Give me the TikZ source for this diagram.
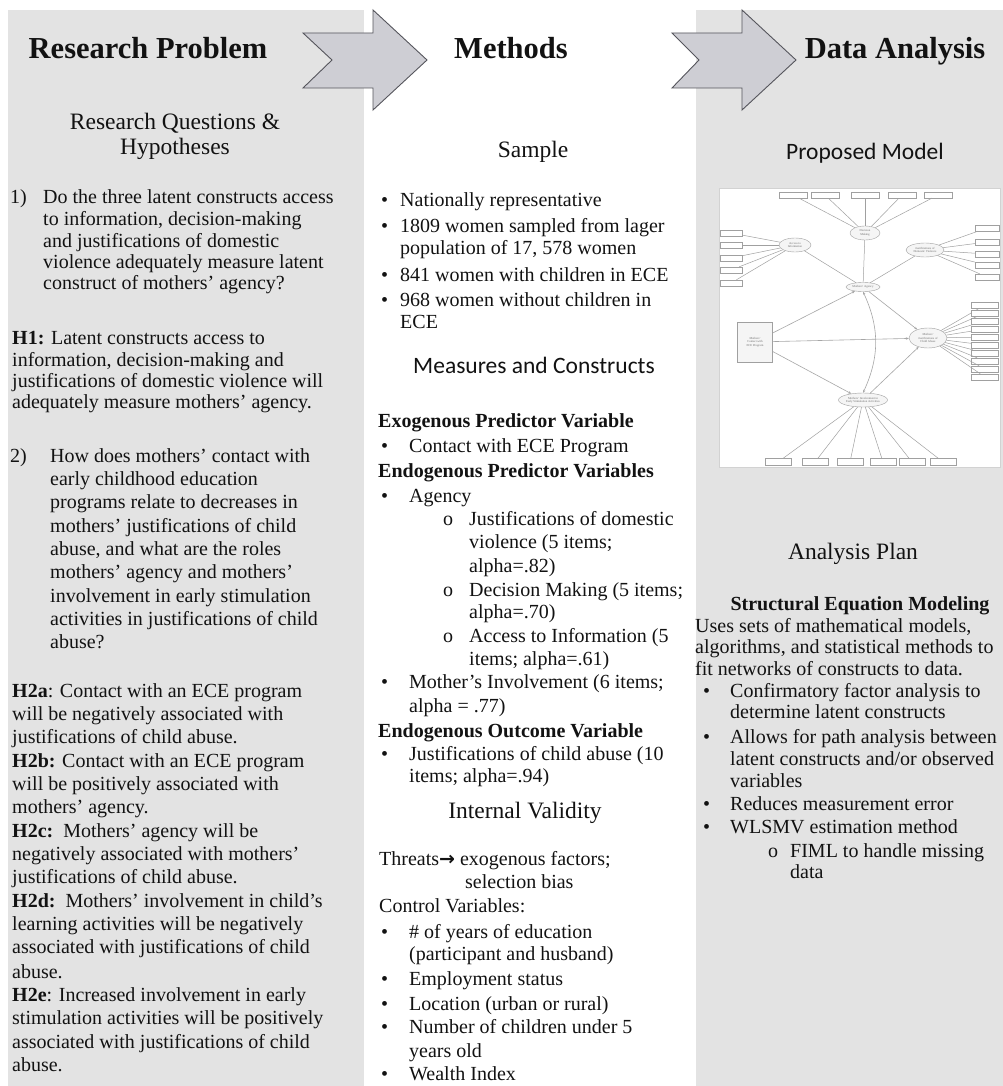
\documentclass[tikz,border=0pt]{standalone}
\usepackage{fontspec}
\setmainfont{Liberation Serif}
\newfontfamily\calibfont{Carlito}
\newfontfamily\arrowfont{DejaVu Sans}
\usetikzlibrary{shapes.geometric,arrows.meta}
\definecolor{panel}{RGB}{227,227,227}
\definecolor{chevfill}{RGB}{206,206,212}
\definecolor{chevline}{RGB}{85,85,92}
\definecolor{ink}{RGB}{18,18,18}
\definecolor{mline}{RGB}{160,160,160}
\definecolor{mtext}{RGB}{110,110,110}
\newcommand{\putline}[5][]{\node[body,#1] (#2) at (#3,#4) {#5};}
\begin{document}
\begin{tikzpicture}[x=1pt,y=-1pt,
  body/.style={font=\fontsize{20}{23}\selectfont, text=ink, inner sep=0pt, anchor=base west},
  boldline/.style={font=\fontsize{20}{23}\selectfont\bfseries},
  centred/.style={anchor=base},
  title/.style={font=\fontsize{30.5}{34}\selectfont\bfseries, text=ink, inner sep=0pt, anchor=base},
  subhead/.style={font=\fontsize{23.5}{27}\selectfont, text=ink, inner sep=0pt, anchor=base},
  subcal/.style={font=\fontsize{23.5}{27}\selectfont\calibfont, text=ink, inner sep=0pt, anchor=base},
  chev/.style={fill=chevfill, draw=chevline, line width=0.9pt, line join=miter},
  latent/.style={ellipse, draw=mline, fill=gray!8, line width=0.4pt, inner sep=0.5pt,
    font=\fontsize{3}{3.4}\selectfont, text=mtext, align=center},
  obsbox/.style={rectangle, draw=mline, fill=white, line width=0.4pt, inner sep=0pt},
  mlink/.style={draw=mline, line width=0.5pt},
  mpath/.style={draw=gray!70, line width=0.6pt, -{Stealth[length=3pt,width=2.5pt]}},
]
\useasboundingbox (0,0) rectangle (1003,1086);
\fill[white] (0,0) rectangle (1003,1086);
% panels
\fill[panel] (8,10) rectangle (364,1086);
\fill[panel] (696,10) rectangle (1003,1086);
% chevrons
\draw[chev] (303,33) -- (373,33) -- (373,10) -- (427,60) -- (373,110) -- (373,88) -- (303,88) -- (332,60) -- cycle;
\draw[chev] (672,33) -- (742,33) -- (742,10) -- (796,60) -- (742,110) -- (742,88) -- (672,88) -- (699,60) -- cycle;
% titles
\node[title] (t1) at (148,59) {Research Problem};
\node[title] (t2) at (511,59) {Methods};
\node[title] (t3) at (895,59) {Data Analysis};
% ---------------- left column
\node[subhead] (rq1) at (175,130) {Research Questions \&};
\node[subhead] (rq2) at (175,155) {Hypotheses};
\putline{q1n}{10}{204}{1)}
\putline{q1a}{43}{204}{Do the three latent constructs access}
\putline{q1b}{43}{225}{to information, decision-making}
\putline{q1c}{43}{247}{and justifications of domestic}
\putline{q1d}{43}{268}{violence adequately measure latent}
\putline{q1e}{43}{289}{construct of mothers’ agency?}
\putline{h1a}{12}{344}{{\bfseries H1:} Latent constructs access to}
\putline{h1b}{12}{366}{information, decision-making and}
\putline{h1c}{12}{387}{justifications of domestic violence will}
\putline{h1d}{12}{408}{adequately measure mothers’ agency.}
\putline{q2n}{10}{462}{2)}
\putline{q2a}{50}{462}{How does mothers’ contact with}
\putline{q2b}{50}{485}{early childhood education}
\putline{q2c}{50}{508}{programs relate to decreases in}
\putline{q2d}{50}{532}{mothers’ justifications of child}
\putline{q2e}{50}{555}{abuse, and what are the roles}
\putline{q2f}{50}{578}{mothers’ agency and mothers’}
\putline{q2g}{50}{602}{involvement in early stimulation}
\putline{q2h}{50}{625}{activities in justifications of child}
\putline{q2i}{50}{648}{abuse?}
\putline{h2a1}{12}{697}{{\bfseries H2a}: Contact with an ECE program}
\putline{h2a2}{12}{720}{will be negatively associated with}
\putline{h2a3}{12}{743}{justifications of child abuse.}
\putline{h2b1}{12}{767}{{\bfseries H2b:} Contact with an ECE program}
\putline{h2b2}{12}{790}{will be positively associated with}
\putline{h2b3}{12}{813}{mothers’ agency.}
\putline{h2c1}{12}{837}{{\bfseries H2c:}\ \ Mothers’ agency will be}
\putline{h2c2}{12}{860}{negatively associated with mothers’}
\putline{h2c3}{12}{883}{justifications of child abuse.}
\putline{h2d1}{12}{907}{{\bfseries H2d:}\ \ Mothers’ involvement in child’s}
\putline{h2d2}{12}{930}{learning activities will be negatively}
\putline{h2d3}{12}{953}{associated with justifications of child}
\putline{h2d4}{12}{978}{abuse.}
\putline{h2e1}{12}{1001}{{\bfseries H2e}: Increased involvement in early}
\putline{h2e2}{12}{1024}{stimulation activities will be positively}
\putline{h2e3}{12}{1048}{associated with justifications of child}
\putline{h2e4}{12}{1071}{abuse.}
% ---------------- middle column
\node[subhead] (smp) at (533,158) {Sample};
\putline{s1d}{381}{207}{•}\putline{s1}{400}{207}{Nationally representative}
\putline{s2d}{381}{232}{•}\putline{s2}{400}{232}{1809 women sampled from lager}
\putline{s2b}{400}{254}{population of 17, 578 women}
\putline{s3d}{381}{281}{•}\putline{s3}{400}{281}{841 women with children in ECE}
\putline{s4d}{381}{306}{•}\putline{s4}{400}{306}{968 women without children in}
\putline{s4b}{400}{328}{ECE}
\node[subcal] (mc) at (534,373) {Measures and Constructs};
\putline[boldline]{exo}{378}{427}{Exogenous Predictor Variable}
\putline{m1d}{381}{452}{•}\putline{m1}{409}{452}{Contact with ECE Program}
\putline[boldline]{endp}{378}{477}{Endogenous Predictor Variables}
\putline{m2d}{381}{502}{•}\putline{m2}{409}{502}{Agency}
\putline{m3d}{443}{525}{o}\putline{m3}{469}{525}{Justifications of domestic}
\putline{m3b}{469}{548}{violence (5 items;}
\putline{m3c}{469}{572}{alpha=.82)}
\putline{m4d}{443}{596}{o}\putline{m4}{469}{596}{Decision Making (5 items;}
\putline{m4b}{469}{618}{alpha=.70)}
\putline{m5d}{443}{642}{o}\putline{m5}{469}{642}{Access to Information (5}
\putline{m5b}{469}{665}{items; alpha=.61)}
\putline{m6d}{381}{688}{•}\putline{m6}{409}{688}{Mother’s Involvement (6 items;}
\putline{m6b}{409}{712}{alpha = .77)}
\putline[boldline]{endo}{378}{737}{Endogenous Outcome Variable}
\putline{m7d}{381}{760}{•}\putline{m7}{409}{760}{Justifications of child abuse (10}
\putline{m7b}{409}{782}{items; alpha=.94)}
\node[subhead] (iv) at (525,818) {Internal Validity};
\putline{th}{379}{865}{Threats{\arrowfont\fontsize{19}{20}\selectfont\bfseries →} exogenous factors;}
\putline{thb}{465}{888}{selection bias}
\putline{cv}{379}{912}{Control Variables:}
\putline{c1d}{381}{938}{•}\putline{c1}{409}{938}{\# of years of education}
\putline{c1b}{409}{960}{(participant and husband)}
\putline{c2d}{381}{985}{•}\putline{c2}{409}{985}{Employment status}
\putline{c3d}{381}{1010}{•}\putline{c3}{409}{1010}{Location (urban or rural)}
\putline{c4d}{381}{1033}{•}\putline{c4}{409}{1033}{Number of children under 5}
\putline{c4b}{409}{1057}{years old}
\putline{c5d}{381}{1080}{•}\putline{c5}{409}{1080}{Wealth Index}
% ---------------- right column
\node[subcal] (pm) at (865,160) {Proposed Model};
% model figure
\node[rectangle, draw=gray!35, fill=white, line width=0.5pt, minimum width=281pt, minimum height=279pt, inner sep=0pt] (frame) at (859.5,327.5) {};
\node[latent, minimum width=30pt, minimum height=14pt] (dm) at (865,233) {Decision\\Making};
\node[latent, minimum width=32pt, minimum height=14pt] (ai) at (795,245) {Access to\\Information};
\node[latent, minimum width=38pt, minimum height=14pt] (jdv) at (925,250) {Justifications of\\Domestic Violence};
\node[latent, minimum width=34pt, minimum height=9pt] (ag) at (863,287) {Mothers’ Agency};
\node[rectangle, draw=mline, fill=gray!8, line width=0.4pt, inner sep=0.5pt, minimum width=35pt, minimum height=40pt, font=\fontsize{3}{3.4}\selectfont, text=mtext, align=center] (ct) at (755,342) {Mothers’\\Contact with\\ECE Program};
\node[latent, minimum width=38pt, minimum height=20pt] (jca) at (928,338) {Mothers’\\Justifications of\\Child Abuse};
\node[latent, minimum width=48pt, minimum height=14pt] (inv) at (863,400) {Mothers’ Involvement in\\Early Stimulation Activities};
% indicator boxes and loadings
\foreach \xx [count=\i] in {793,825,865,902,938} {
  \node[obsbox, minimum width=28pt, minimum height=6pt] (top\i) at (\xx,195) {};
  \draw[mlink] (dm) -- (top\i);
}
\foreach \yy [count=\i] in {233,245,258,270,283} {
  \node[obsbox, minimum width=22pt, minimum height=6pt] (lft\i) at (731,\yy) {};
  \draw[mlink] (ai) -- (lft\i);
}
\foreach \yy [count=\i] in {228,242,254,265,277} {
  \node[obsbox, minimum width=24pt, minimum height=6pt] (rdv\i) at (987,\yy) {};
  \draw[mlink] (jdv) -- (rdv\i);
}
\foreach \i in {1,...,10} {
  \node[obsbox, minimum width=27pt, minimum height=6pt] (rca\i) at (985,{297+8*\i}) {};
  \draw[mlink] (jca) -- (rca\i);
}
\foreach \xx [count=\i] in {778,815,850,883,912,943} {
  \node[obsbox, minimum width=26pt, minimum height=7pt] (bot\i) at (\xx,462) {};
  \draw[mlink] (inv) -- (bot\i);
}
\draw[mlink] (dm) -- (ag);
\draw[mlink] (ai) -- (ag);
\draw[mlink] (jdv) -- (ag);
% structural paths
\draw[mpath] (ct) -- (ag);
\draw[mpath] (ct) -- (inv);
\draw[mpath] (ct) -- (jca);
\draw[mpath] (ag) -- (jca);
\draw[mpath] (inv) -- (jca);
\draw[draw=gray!70, line width=0.6pt, {Stealth[length=3pt,width=2.5pt]}-{Stealth[length=3pt,width=2.5pt]}] (ag.south) to[bend left=25] (inv.north);
% analysis plan
\node[subhead] (ap) at (853,559) {Analysis Plan};
\putline[boldline,centred]{sem}{860}{610}{Structural Equation Modeling}
\putline{u1}{695}{632}{Uses sets of mathematical models,}
\putline{u2}{695}{653}{algorithms, and statistical methods to}
\putline{u3}{695}{675}{fit networks of constructs to data.}
\putline{a1d}{703}{697}{•}\putline{a1}{730}{697}{Confirmatory factor analysis to}
\putline{a1b}{730}{718}{determine latent constructs}
\putline{a2d}{703}{743}{•}\putline{a2}{730}{743}{Allows for path analysis between}
\putline{a2b}{730}{765}{latent constructs and/or observed}
\putline{a2c}{730}{787}{variables}
\putline{a3d}{703}{810}{•}\putline{a3}{730}{810}{Reduces measurement error}
\putline{a4d}{703}{833}{•}\putline{a4}{730}{833}{WLSMV estimation method}
\putline{a5d}{768}{857}{o}\putline{a5}{790}{857}{FIML to handle missing}
\putline{a5b}{790}{878}{data}
\end{tikzpicture}
\end{document}
